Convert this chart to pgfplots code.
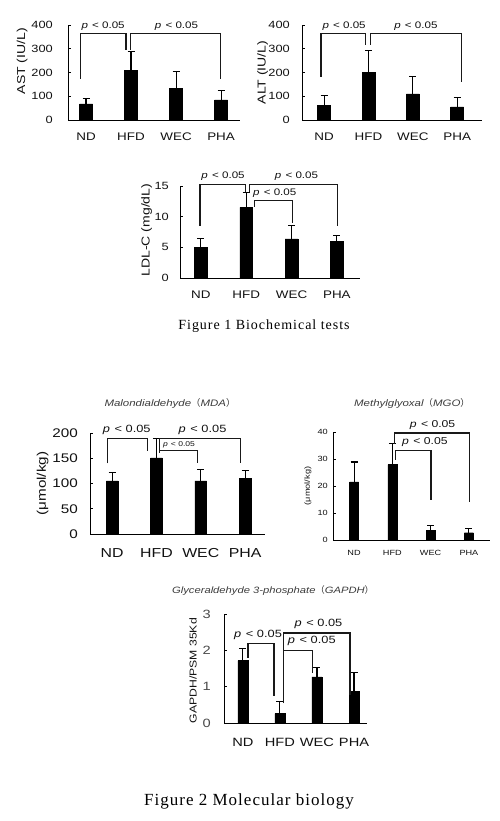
\documentclass[border=0pt]{standalone}
\usepackage{fontspec}
\usepackage{pgfplots}
\pgfplotsset{compat=1.18}
\setmainfont{Liberation Serif}
\newfontfamily\wsf[FakeStretch=1.22]{Liberation Sans}
\newfontfamily\cjk{Noto Sans CJK SC}
\newfontfamily\capfontA[LetterSpace=7]{Liberation Serif}
\newfontfamily\capfontB[LetterSpace=6]{Liberation Serif}
\newcommand\fs[1]{\fontsize{#1bp}{#1bp}\selectfont}
\newcommand\plab{\textit{p}\kern0.1em{} < 0.05}
\newcommand\brk[5]{\draw[br] (axis cs:#1,#2) -- (axis cs:#1,#3) -- (axis cs:#4,#3) -- (axis cs:#4,#5);}
\definecolor{txt}{HTML}{111111}
\definecolor{gtxt}{HTML}{4A4A4A}
\definecolor{ttl}{HTML}{3C3C3C}
\tikzset{
  br/.style={line width=1.2bp, black!90},
  pl/.style={font=\wsf\fs{#1}, text=txt, inner sep=0pt},
}
\pgfplotsset{
  panel/.style={
    scale only axis, axis lines=left, axis line style={-, line width=1bp, black},
    ymin=0, xtick={0,1,2,3}, xticklabels={ND,HFD,WEC,PHA},
    xtick style={draw=none}, ytick style={line width=0.9bp, black}, major tick length=2.5bp, tick align=inside,
    clip=false, anchor=south west,
    /pgf/number format/assume math mode=true,
    every axis y label/.style={rotate=90, anchor=center},
    yticklabel style={anchor=east, inner sep=0pt},
    xticklabel style={anchor=center, inner sep=0pt},
  },
  yt/.style n args={3}{yticklabel style={font=\wsf\fs{#1}, xshift=-#2bp, text=#3}},
  xt/.style n args={3}{xticklabel style={font=\wsf\fs{#1}, yshift=-#2bp, text=#3}},
  yl/.style n args={3}{ylabel style={font=\wsf\fs{#1}, at={(axis description cs:#2,#3)}, text=txt}},
  bars/.style={ybar, bar width=#1, fill=black, draw=black, bar shift=0pt,
    error bars/.cd, y dir=plus, y explicit,
    error bar style={line width=1.1bp, black},
    error mark options={line width=1.1bp, mark size=3.5bp, rotate=90, black}},
}
\begin{document}
\begin{tikzpicture}
\path[use as bounding box] (0,0) rectangle (500bp,-821bp);
% AST
\begin{axis}[panel, at={(68bp,-120bp)}, width=172bp, height=95bp,
  xmin=-0.4, xmax=3.42, ymax=400, ytick={0,100,200,300,400},
  ylabel={AST (IU/L)}, yl={11.5}{-0.267}{0.62},
  yt={10.5}{15}{txt}, xt={11}{17}{txt}]
\addplot[bars=13bp] coordinates {(0,68) +- (0,22) (1,210) +- (0,80) (2,133) +- (0,70) (3,85) +- (0,38)};
\brk{-0.13}{173}{365}{0.89}{295}
\brk{0.99}{295}{365}{2.99}{173}
\node[pl=9.5] at (axis cs:0.38,393) {\plab};
\node[pl=9.5] at (axis cs:2.01,393) {\plab};
\end{axis}
% ALT
\begin{axis}[panel, at={(302bp,-120bp)}, width=180bp, height=95bp,
  xmin=-0.5, xmax=3.56, ymax=400, ytick={0,100,200,300,400},
  ylabel={ALT (IU/L)}, yl={11.5}{-0.219}{0.5},
  yt={10.5}{12}{txt}, xt={11}{17}{txt}]
\addplot[bars=13bp] coordinates {(0,62) +- (0,43) (1,200) +- (0,92) (2,110) +- (0,75) (3,55) +- (0,40)};
\brk{-0.07}{182}{365}{0.93}{316}
\brk{1.05}{316}{365}{3.09}{161}
\node[pl=9.5] at (axis cs:0.45,396) {\plab};
\node[pl=9.5] at (axis cs:2.07,396) {\plab};
\end{axis}
% LDL-C
\begin{axis}[panel, at={(180bp,-278bp)}, width=180bp, height=92bp,
  xmin=-0.46, xmax=3.51, ymax=15, ytick={0,5,10,15},
  ylabel={LDL-C (mg/dL)}, yl={11.5}{-0.185}{0.52},
  yt={10.5}{11}{txt}, xt={11}{17}{txt}]
\addplot[bars=12.7bp] coordinates {(0,5.0) +- (0,1.5) (1,11.5) +- (0,2.5) (2,6.4) +- (0,2.1) (3,6.0) +- (0,1.0)};
\brk{-0.02}{8.55}{15.3}{0.99}{14.1}
\brk{1.08}{14.1}{15.3}{3.01}{8.4}
\brk{1.19}{11.6}{12.7}{2.02}{8.9}
\node[pl=9.5] at (axis cs:0.49,16.6) {\plab};
\node[pl=9.5] at (axis cs:2.11,16.6) {\plab};
\node[pl=9.5] at (axis cs:1.63,13.8) {\plab};
\end{axis}
% MDA
\begin{axis}[panel, at={(90bp,-534bp)}, width=175bp, height=101bp,
  xmin=-0.5, xmax=3.45, ymax=200, ytick={0,50,100,150,200},
  ylabel={(μmol/kg)}, yl={12.5}{-0.27}{0.5},
  yt={12.5}{12}{txt}, xt={13}{19}{txt}]
\addplot[bars=11.7bp] coordinates {(0,105) +- (0,17) (1,151) +- (0,38) (2,105) +- (0,22) (3,110) +- (0,15)};
\brk{-0.1}{140}{189}{0.8}{164}
\brk{1.07}{161}{189}{2.9}{140}
\brk{1.07}{166}{166}{1.93}{140}
\node[pl=10.5] at (axis cs:0.33,207) {\plab};
\node[pl=10.5] at (axis cs:2.04,207) {\plab};
\node[pl=7] at (axis cs:1.51,176) {\plab};
\end{axis}
% MGO
\begin{axis}[panel, at={(333bp,-540bp)}, width=157bp, height=108bp,
  xmin=-0.55, xmax=3.55, ymax=40, ytick={0,10,20,30,40},
  ylabel={(μmol/kg)}, yl={7.5}{-0.159}{0.5},
  yt={7.5}{5}{txt}, xt={7.5}{13}{txt}]
\addplot[bars=9bp] coordinates {(0,21.5) +- (0,7.4) (1,27.9) +- (0,7.8) (2,3.7) +- (0,1.6) (3,2.7) +- (0,1.5)};
\brk{1.05}{35.7}{39.6}{3.01}{14.2}
\brk{1.09}{29.8}{33.2}{2.01}{15}
\node[pl=10] at (axis cs:2.05,42.5) {\plab};
\node[pl=10] at (axis cs:1.85,36.3) {\plab};
\end{axis}
% GAPDH
\begin{axis}[panel, at={(224bp,-723bp)}, width=143bp, height=109bp,
  xmin=-0.51, xmax=3.35, ymax=3, ytick={0,1,2,3},
  ylabel={GAPDH/PSM 35Kd}, yl={10}{-0.217}{0.48},
  yt={12}{13}{gtxt}, xt={12}{19}{txt}]
\addplot[bars=10bp] coordinates {(0,1.72) +- (0,0.32) (1,0.26) +- (0,0.34) (2,1.27) +- (0,0.27) (3,0.87) +- (0,0.51)};
\brk{0.14}{1.79}{2.18}{0.84}{0.73}
\brk{1.09}{0.55}{2.48}{2.89}{0.78}
\brk{1.09}{2.0}{2.0}{1.88}{1.38}
\node[pl=10.5] at (axis cs:0.41,2.43) {\plab};
\node[pl=10.5] at (axis cs:2.04,2.73) {\plab};
\node[pl=10.5] at (axis cs:1.86,2.25) {\plab};
\end{axis}
% titles and captions
\node[font=\wsf\itshape\fs{9.4}, text=ttl, inner sep=0pt] at (170bp,-403bp) {Malondialdehyde{\cjk （}MDA{\cjk ）}};
\node[font=\wsf\itshape\fs{9.4}, text=ttl, inner sep=0pt] at (412bp,-403bp) {Methylglyoxal{\cjk （}MGO{\cjk ）}};
\node[font=\wsf\itshape\fs{9.2}, text=ttl, inner sep=0pt] at (273bp,-591bp) {Glyceraldehyde 3-phosphate{\cjk （}GAPDH{\cjk ）}};
\node[font=\capfontA\fs{14}, inner sep=0pt] at (264bp,-326bp) {Figure 1 Biochemical tests};
\node[font=\capfontB\fs{17}, inner sep=0pt] at (249bp,-801bp) {Figure 2 Molecular biology};
\end{tikzpicture}
\end{document}
